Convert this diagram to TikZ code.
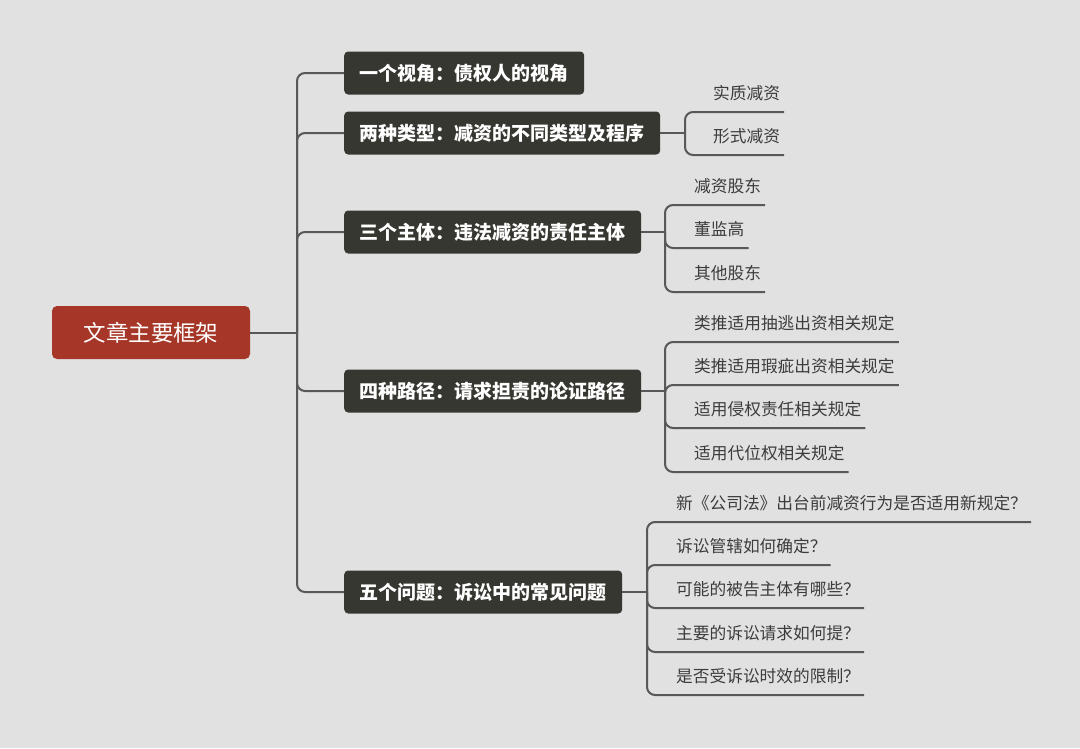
\documentclass[tikz,border=0pt]{standalone}
\usepackage{fontspec}
\setmainfont{Noto Sans CJK SC}

\definecolor{bgcol}{RGB}{225,225,225}
\definecolor{rootred}{RGB}{166,55,40}
\definecolor{topicdark}{RGB}{55,55,49}
\definecolor{linegrey}{RGB}{88,88,88}
\definecolor{leaftext}{RGB}{60,60,60}

\tikzset{
	rootbox/.style={fill=rootred, text=white, rounded corners=5pt, minimum width=198pt, minimum height=53pt, font=\fontsize{22.5pt}{27pt}\selectfont},
	topicbox/.style={fill=topicdark, text=white, rounded corners=4pt, anchor=west, minimum height=43pt, inner xsep=15.5pt, font=\fontsize{19pt}{23pt}\selectfont\bfseries},
	leaf/.style={anchor=south west, text=leaftext, inner xsep=4pt, inner ysep=0pt, text height=14pt, text depth=12pt, font=\fontsize{16.7pt}{20pt}\selectfont},
	link/.style={draw=linegrey, line width=2pt, rounded corners=8pt}
}

\begin{document}
\begin{tikzpicture}[x=1pt, y=-1pt]
	\fill[bgcol] (0,0) rectangle (1080,748);
	\useasboundingbox (0,0) rectangle (1080,748);

	\node[rootbox] (root) at (151,332.5) {文章主要框架};
	\coordinate (trunk) at (297,332.5);

	\node[topicbox] (t1) at (344,73) {一个视角：债权人的视角};
	\node[topicbox] (t2) at (344,133) {两种类型：减资的不同类型及程序};
	\node[topicbox] (t3) at (344,232) {三个主体：违法减资的责任主体};
	\node[topicbox] (t4) at (344,391) {四种路径：请求担责的论证路径};
	\node[topicbox] (t5) at (344,592) {五个问题：诉讼中的常见问题};

	\draw[link] (root.east) -- (trunk);
	\draw[link] (trunk) |- (t1.west);
	\draw[link] (trunk) |- (t2.west);
	\draw[link] (trunk) |- (t3.west);
	\draw[link] (trunk) |- (t4.west);
	\draw[link] (trunk) |- (t5.west);

	\coordinate (b2) at (685,133);
	\coordinate (b3) at (665,232);
	\coordinate (b4) at (665,391);
	\coordinate (b5) at (647,592);

	\node[leaf] (l21) at (709,112) {实质减资};
	\node[leaf] (l22) at (709,155) {形式减资};

	\node[leaf] (l31) at (690,205) {减资股东};
	\node[leaf] (l32) at (690,248) {董监高};
	\node[leaf] (l33) at (690,292) {其他股东};

	\node[leaf] (l41) at (690,342) {类推适用抽逃出资相关规定};
	\node[leaf] (l42) at (690,385) {类推适用瑕疵出资相关规定};
	\node[leaf] (l43) at (690,428) {适用侵权责任相关规定};
	\node[leaf] (l44) at (690,472) {适用代位权相关规定};

	\node[leaf] (l51) at (672,522) {新《公司法》出台前减资行为是否适用新规定？};
	\node[leaf] (l52) at (672,565) {诉讼管辖如何确定？};
	\node[leaf] (l53) at (672,608) {可能的被告主体有哪些？};
	\node[leaf] (l54) at (672,652) {主要的诉讼请求如何提？};
	\node[leaf] (l55) at (672,695) {是否受诉讼时效的限制？};

	\draw[link] (t2.east) -- (b2);
	\draw[link] (b2) |- (l21.south east);
	\draw[link] (b2) |- (l22.south east);

	\draw[link] (t3.east) -- (b3);
	\draw[link] (b3) |- (l31.south east);
	\draw[link] (b3) |- (l32.south east);
	\draw[link] (b3) |- (l33.south east);

	\draw[link] (t4.east) -- (b4);
	\draw[link] (b4) |- (l41.south east);
	\draw[link] (b4) |- (l42.south east);
	\draw[link] (b4) |- (l43.south east);
	\draw[link] (b4) |- (l44.south east);

	\draw[link] (t5.east) -- (b5);
	\draw[link] (b5) |- (l51.south east);
	\draw[link] (b5) |- (l52.south east);
	\draw[link] (b5) |- (l53.south east);
	\draw[link] (b5) |- (l54.south east);
	\draw[link] (b5) |- (l55.south east);
\end{tikzpicture}
\end{document}
